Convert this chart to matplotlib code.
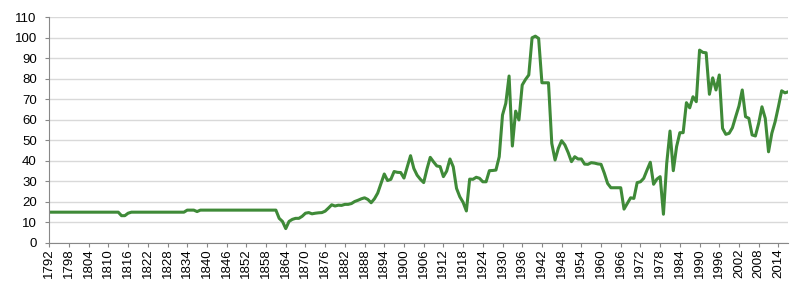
import matplotlib.pyplot as plt
import numpy as np

# annual series, 1792-2017
years = np.arange(1792, 2018)

vals_1792_1861 = (
    [15.0] * 22                      # 1792-1813
    + [13.3, 13.3, 14.5]             # 1814-1816
    + [15.0] * 17                    # 1817-1833
    + [16.0, 16.0, 16.0, 15.3]       # 1834-1837
    + [16.0] * 24                    # 1838-1861
)
vals_1862_1900 = [
    12.0, 10.5, 7.0, 10.5, 11.5, 12.0, 12.0, 13.0, 14.5, 14.8,
    14.2, 14.5, 14.7, 14.8, 15.5, 17.0, 18.6, 18.0, 18.4, 18.3,
    18.8, 18.8, 19.2, 20.2, 20.8, 21.5, 22.0, 21.2, 19.6, 21.5,
    24.3, 29.0, 33.6, 30.4, 31.0, 34.8, 34.4, 34.3, 31.6,
]
vals_1901_1960 = [
    37.0, 42.5, 36.3, 33.0, 31.0, 29.4, 36.0, 41.7, 39.5, 37.5,
    37.2, 32.3, 35.0, 40.9, 37.1, 26.6, 22.5, 19.8, 15.6, 31.1,
    31.0, 32.0, 31.5, 29.8, 29.8, 35.2, 35.3, 35.5, 42.0, 62.3,
    68.0, 81.3, 47.2, 64.2, 59.9, 76.9, 79.6, 81.8, 99.9, 100.7,
    99.6, 78.0, 78.0, 78.0, 48.5, 40.4, 46.1, 49.8, 47.7, 44.0,
    39.6, 42.0, 40.9, 40.9, 38.4, 38.3, 39.1, 38.9, 38.5, 38.3,
]
vals_1961_2017 = [
    34.0, 29.0, 26.9, 26.9, 26.9, 26.9, 16.5, 19.3, 22.0, 21.7,
    29.4, 29.8, 31.5, 35.5, 39.3, 28.6, 31.1, 32.3, 14.0, 38.8,
    54.5, 35.2, 46.9, 53.7, 53.7, 68.3, 65.8, 71.2, 68.8, 93.9,
    92.8, 92.6, 72.4, 80.4, 74.5, 81.8, 55.8, 52.9, 53.4, 56.1,
    61.5, 66.7, 74.5, 61.5, 60.7, 52.6, 52.1, 58.3, 66.3, 60.7,
    44.4, 53.4, 59.0, 66.3, 74.1, 73.1, 73.6,
]
values = vals_1792_1861 + vals_1862_1900 + vals_1901_1960 + vals_1961_2017

x_ticks = np.arange(1792, 2018, 6)
y_ticks = np.arange(0, 111, 10)

plt.rcParams['font.family'] = ['Liberation Sans', 'DejaVu Sans']

fig = plt.figure(figsize=(8, 2.94), dpi=100)
ax = fig.add_axes([0.0616, 0.1735, 0.9237, 0.7685])

ax.plot(years, values, color='#3f8a38', linewidth=2.2, solid_joinstyle='round')

ax.set_xlim(1792, 2017)
ax.set_ylim(0, 110)
ax.set_xticks(x_ticks)
ax.set_xticklabels([str(y) for y in x_ticks], rotation=90)
ax.set_yticks(y_ticks)

ax.grid(axis='y', color='#d9d9d9', linewidth=1.0)
ax.set_axisbelow(True)

for side in ['top', 'right']:
    ax.spines[side].set_visible(False)
for side in ['left', 'bottom']:
    ax.spines[side].set_color('#888888')
    ax.spines[side].set_linewidth(0.8)

ax.tick_params(axis='x', labelsize=9.5, colors='#888888', labelcolor='black',
               length=3, width=0.8, pad=1)
ax.tick_params(axis='y', labelsize=9.5, colors='#888888', labelcolor='black',
               length=3, width=0.8, pad=6)

plt.savefig("out.png", dpi=100)
